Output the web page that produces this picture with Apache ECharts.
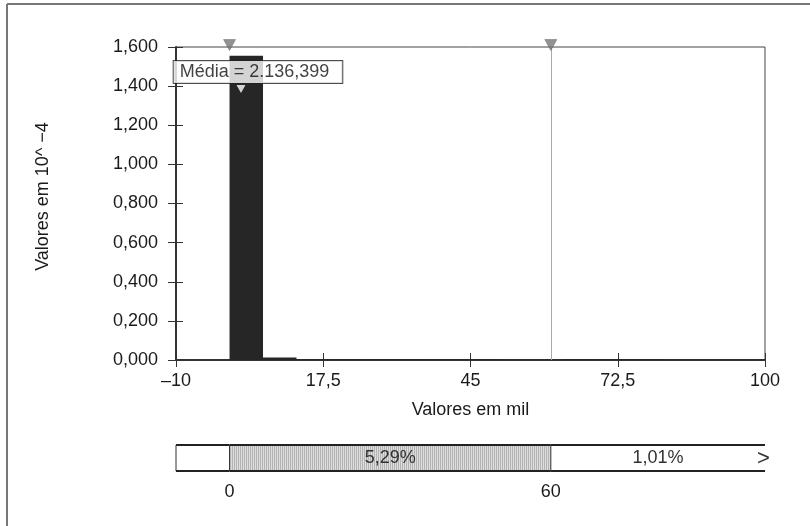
<!DOCTYPE html>
<html>
<head>
<meta charset="utf-8">
<script src="https://cdn.jsdelivr.net/npm/echarts@6/dist/echarts.min.js"></script>
<style>
html,body{margin:0;padding:0;background:#fff;}
#chart{width:810px;height:526px;}
</style>
</head>
<body>
<div id="chart"></div>
<script>
// ---- data ----
var binStarts = [0, 6.25, 12.5, 18.75, 25, 31.25, 37.5, 43.75, 50, 56.25, 62.5, 68.75, 75, 81.25, 87.5, 93.75];
var binEnds   = [6.25, 12.5, 18.75, 25, 31.25, 37.5, 43.75, 50, 56.25, 62.5, 68.75, 75, 81.25, 87.5, 93.75, 100];
var binValues = [1.555, 0.013, 0.004, 0.005, 0.005, 0.005, 0.004, 0.004, 0.003, 0.003, 0.005, 0.005, 0.004, 0.003, 0.003, 0.003];
var xTickValues = [-10, 17.5, 45, 72.5, 100];
var yMin = 0, yMax = 1.6, yStep = 0.2;
var meanValue = 2.136399;
var meanMarkerY = 1.385;
var meanLabel = 'Média = 2.136,399';
var cutoffValues = [0, 60];
var bandEdges = [-10, 0, 60, 100];
var bandLabels = ['', '5,29%', '1,01%'];
var xName = 'Valores em mil';
var yName = 'Valores em 10^ −4';

var FONT = 'Liberation Sans, Arial, sans-serif';
var TXT = '#1a1a1a';

function fmtX(v) {
  var s = String(Math.abs(v)).replace('.', ',');
  return v < 0 ? '–' + s : s;
}
function fmtY(v) { return v.toFixed(3).replace('.', ','); }

var histData = binStarts.map(function (s, i) { return [s, binEnds[i], binValues[i]]; });
var bandData = bandLabels.map(function (l, i) { return [bandEdges[i], bandEdges[i + 1], i]; });

// vertical hatch pattern for the middle band
var pat = document.createElement('canvas');
pat.width = 2; pat.height = 2;
var pctx = pat.getContext('2d');
pctx.fillStyle = '#dcdcdc'; pctx.fillRect(0, 0, 2, 2);
pctx.fillStyle = '#b4b4b4'; pctx.fillRect(0, 0, 1, 2);

var chart = echarts.init(document.getElementById('chart'), null, { renderer: 'canvas' });

var option = {
  backgroundColor: '#fff',
  animation: false,
  textStyle: { fontFamily: FONT },
  grid: [
    { left: 176, right: 45, top: 47, bottom: 166, show: true, borderColor: '#444', borderWidth: 1, backgroundColor: 'transparent' },
    { left: 176, right: 45, top: 445, height: 26, show: false }
  ],
  xAxis: [
    {
      type: 'value', gridIndex: 0, min: -10, max: 100, position: 'bottom',
      axisLine: { show: true, onZero: false, lineStyle: { color: '#333', width: 2 } },
      axisTick: { show: true, inside: false, length: 7, customValues: xTickValues, lineStyle: { color: '#333', width: 1 } },
      axisLabel: { show: true, customValues: xTickValues, formatter: fmtX, fontSize: 18, color: TXT, fontFamily: FONT, margin: 12 },
      splitLine: { show: false },
      name: xName, nameLocation: 'middle', nameGap: 41,
      nameTextStyle: { fontSize: 18, color: TXT, fontFamily: FONT }
    },
    {
      type: 'value', gridIndex: 0, min: -10, max: 100, position: 'bottom',
      axisLine: { show: false, onZero: false },
      axisTick: { show: true, inside: true, length: 7, customValues: xTickValues, lineStyle: { color: '#333', width: 1 } },
      axisLabel: { show: false },
      splitLine: { show: false }
    },
    {
      type: 'value', gridIndex: 1, min: -10, max: 100, position: 'bottom',
      axisLine: { show: false, onZero: false },
      axisTick: { show: false },
      axisLabel: { show: true, customValues: cutoffValues, fontSize: 18, color: TXT, fontFamily: FONT, margin: 12 },
      splitLine: { show: false }
    }
  ],
  yAxis: [
    {
      type: 'value', gridIndex: 0, min: yMin, max: yMax, interval: yStep, position: 'left',
      axisLine: { show: true, onZero: false, lineStyle: { color: '#333', width: 2 } },
      axisTick: { show: true, inside: false, length: 8, lineStyle: { color: '#333', width: 1 } },
      axisLabel: { formatter: fmtY, fontSize: 18, color: TXT, fontFamily: FONT, margin: 18 },
      splitLine: { show: false },
      name: yName, nameLocation: 'middle', nameRotate: 90, nameGap: 124,
      nameTextStyle: { fontSize: 18, color: TXT, fontFamily: FONT, padding: [0, 0, 0, 14] }
    },
    {
      type: 'value', gridIndex: 0, min: yMin, max: yMax, interval: yStep, position: 'left',
      axisLine: { show: false, onZero: false },
      axisTick: { show: true, inside: true, length: 7, lineStyle: { color: '#333', width: 1 } },
      axisLabel: { show: false },
      splitLine: { show: false }
    },
    {
      type: 'value', gridIndex: 1, min: 0, max: 1, show: false
    }
  ],
  series: [
    {
      type: 'custom', xAxisIndex: 0, yAxisIndex: 0, z: 3,
      data: histData,
      encode: { x: [0, 1], y: 2 },
      renderItem: function (params, api) {
        var p0 = api.coord([api.value(0), api.value(2)]);
        var p1 = api.coord([api.value(1), 0]);
        return {
          type: 'rect',
          shape: { x: p0[0], y: p0[1], width: p1[0] - p0[0], height: p1[1] - p0[1] },
          style: { fill: '#262626' }
        };
      }
    },
    {
      type: 'scatter', xAxisIndex: 0, yAxisIndex: 0, z: 5,
      data: cutoffValues.map(function (v) { return [v, yMax]; }),
      symbol: 'triangle', symbolRotate: 180, symbolSize: [12, 11], symbolOffset: [0, -2],
      itemStyle: { color: '#777', borderColor: '#555', borderWidth: 0.5 },
      clip: false, silent: true,
      markLine: {
        silent: true, symbol: ['none', 'none'],
        label: { show: false },
        lineStyle: { color: '#aaa', width: 1, type: 'solid' },
        data: [{ xAxis: cutoffValues[1] }]
      }
    },
    {
      type: 'scatter', xAxisIndex: 0, yAxisIndex: 0, z: 6,
      data: [[meanValue, meanMarkerY]],
      symbol: 'triangle', symbolRotate: 180, symbolSize: [9, 8],
      itemStyle: { color: '#fff' },
      silent: true,
      label: {
        show: true, position: 'top', distance: 2, offset: [17, 0],
        formatter: function () { return meanLabel; },
        fontSize: 18, color: '#111', fontFamily: FONT,
        backgroundColor: '#fff', borderColor: '#222', borderWidth: 1,
        padding: [1, 13, 1, 6], lineHeight: 20
      }
    },
    {
      type: 'custom', xAxisIndex: 2, yAxisIndex: 2, z: 3,
      data: bandData,
      encode: { x: [0, 1] },
      renderItem: function (params, api) {
        var a = api.coord([api.value(0), 1]);
        var b = api.coord([api.value(1), 0]);
        var idx = api.value(2);
        var w = b[0] - a[0], h = b[1] - a[1];
        var children = [
          { type: 'rect', shape: { x: a[0], y: a[1], width: w, height: h },
            style: { fill: idx === 1 ? { image: pat, repeat: 'repeat' } : '#fff' } },
          { type: 'line', shape: { x1: a[0], y1: a[1], x2: b[0], y2: a[1] }, style: { stroke: '#222', lineWidth: 2 } },
          { type: 'line', shape: { x1: a[0], y1: b[1], x2: b[0], y2: b[1] }, style: { stroke: '#222', lineWidth: 2 } },
          { type: 'line', shape: { x1: a[0], y1: a[1], x2: a[0], y2: b[1] }, style: { stroke: '#333', lineWidth: 1 } }
        ];
        if (bandLabels[idx]) {
          children.push({ type: 'text', x: (a[0] + b[0]) / 2, y: (a[1] + b[1]) / 2,
            style: { text: bandLabels[idx], fill: '#333', font: '18px ' + FONT, align: 'center', verticalAlign: 'middle' } });
        }
        return { type: 'group', children: children };
      }
    }
  ],
  graphic: [
    { type: 'line', z: 100, shape: { x1: 7, y1: 4, x2: 7, y2: 526 }, style: { stroke: '#777', lineWidth: 2 }, silent: true },
    { type: 'line', z: 100, shape: { x1: 7, y1: 4, x2: 810, y2: 4 }, style: { stroke: '#777', lineWidth: 2 }, silent: true },
    { type: 'text', z: 100, left: 757, top: 448, style: { text: '>', fill: '#333', font: '22px ' + FONT } }
  ]
};

chart.setOption(option);
</script>
</body>
</html>
